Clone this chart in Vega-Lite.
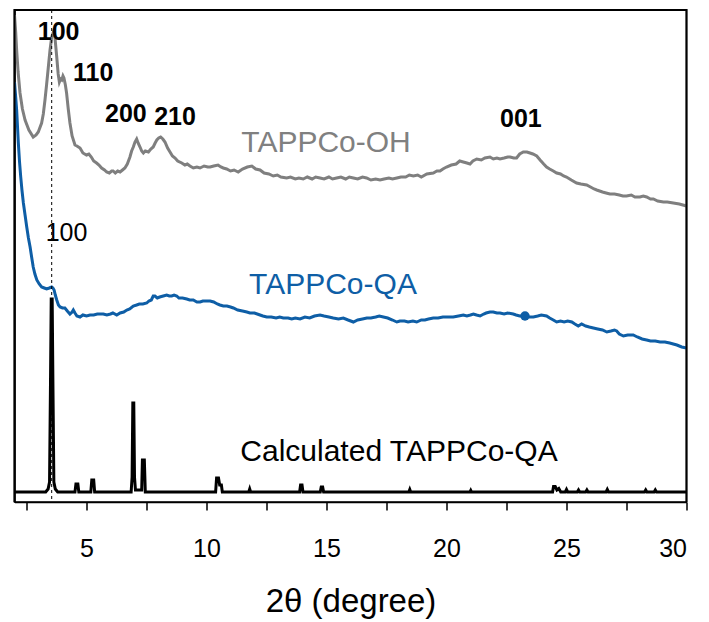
{
  "$schema": "https://vega.github.io/schema/vega-lite/v6.json",
  "width": 672,
  "height": 492,
  "autosize": {"type": "none"},
  "padding": {"left": 14.5, "top": 10, "right": 22.5, "bottom": 120},
  "background": "white",
  "config": {
    "view": {"stroke": "#000000", "strokeWidth": 1.5},
    "font": "Liberation Sans",
    "axis": {"grid": false}
  },
  "datasets": {
    "xrd": [
      {"theta": 2.0, "intensity": 487, "pattern": "TAPPCo-OH"},
      {"theta": 2.05, "intensity": 470, "pattern": "TAPPCo-OH"},
      {"theta": 2.09, "intensity": 452, "pattern": "TAPPCo-OH"},
      {"theta": 2.15, "intensity": 430, "pattern": "TAPPCo-OH"},
      {"theta": 2.23, "intensity": 409, "pattern": "TAPPCo-OH"},
      {"theta": 2.33, "intensity": 393, "pattern": "TAPPCo-OH"},
      {"theta": 2.44, "intensity": 382, "pattern": "TAPPCo-OH"},
      {"theta": 2.6, "intensity": 372, "pattern": "TAPPCo-OH"},
      {"theta": 2.78, "intensity": 365, "pattern": "TAPPCo-OH"},
      {"theta": 2.9, "intensity": 367, "pattern": "TAPPCo-OH"},
      {"theta": 2.99, "intensity": 370, "pattern": "TAPPCo-OH"},
      {"theta": 3.13, "intensity": 379, "pattern": "TAPPCo-OH"},
      {"theta": 3.2, "intensity": 388, "pattern": "TAPPCo-OH"},
      {"theta": 3.27, "intensity": 402, "pattern": "TAPPCo-OH"},
      {"theta": 3.34, "intensity": 418, "pattern": "TAPPCo-OH"},
      {"theta": 3.41, "intensity": 435, "pattern": "TAPPCo-OH"},
      {"theta": 3.48, "intensity": 452, "pattern": "TAPPCo-OH"},
      {"theta": 3.55, "intensity": 465, "pattern": "TAPPCo-OH"},
      {"theta": 3.62, "intensity": 470, "pattern": "TAPPCo-OH"},
      {"theta": 3.68, "intensity": 466, "pattern": "TAPPCo-OH"},
      {"theta": 3.76, "intensity": 445, "pattern": "TAPPCo-OH"},
      {"theta": 3.82, "intensity": 428, "pattern": "TAPPCo-OH"},
      {"theta": 3.87, "intensity": 420, "pattern": "TAPPCo-OH"},
      {"theta": 3.92, "intensity": 423, "pattern": "TAPPCo-OH"},
      {"theta": 3.97, "intensity": 422, "pattern": "TAPPCo-OH"},
      {"theta": 4.02, "intensity": 426, "pattern": "TAPPCo-OH"},
      {"theta": 4.06, "intensity": 424, "pattern": "TAPPCo-OH"},
      {"theta": 4.12, "intensity": 417, "pattern": "TAPPCo-OH"},
      {"theta": 4.17, "intensity": 409, "pattern": "TAPPCo-OH"},
      {"theta": 4.24, "intensity": 393, "pattern": "TAPPCo-OH"},
      {"theta": 4.31, "intensity": 379, "pattern": "TAPPCo-OH"},
      {"theta": 4.4, "intensity": 366, "pattern": "TAPPCo-OH"},
      {"theta": 4.52, "intensity": 357, "pattern": "TAPPCo-OH"},
      {"theta": 4.6, "intensity": 356, "pattern": "TAPPCo-OH"},
      {"theta": 4.73, "intensity": 354, "pattern": "TAPPCo-OH"},
      {"theta": 4.85, "intensity": 349, "pattern": "TAPPCo-OH"},
      {"theta": 5.0, "intensity": 347, "pattern": "TAPPCo-OH"},
      {"theta": 5.1, "intensity": 348, "pattern": "TAPPCo-OH"},
      {"theta": 5.2, "intensity": 345, "pattern": "TAPPCo-OH"},
      {"theta": 5.3, "intensity": 341, "pattern": "TAPPCo-OH"},
      {"theta": 5.42, "intensity": 339, "pattern": "TAPPCo-OH"},
      {"theta": 5.52, "intensity": 337, "pattern": "TAPPCo-OH"},
      {"theta": 5.63, "intensity": 334, "pattern": "TAPPCo-OH"},
      {"theta": 5.75, "intensity": 332, "pattern": "TAPPCo-OH"},
      {"theta": 5.84, "intensity": 330, "pattern": "TAPPCo-OH"},
      {"theta": 5.95, "intensity": 329, "pattern": "TAPPCo-OH"},
      {"theta": 6.05, "intensity": 331, "pattern": "TAPPCo-OH"},
      {"theta": 6.11, "intensity": 331, "pattern": "TAPPCo-OH"},
      {"theta": 6.2, "intensity": 329, "pattern": "TAPPCo-OH"},
      {"theta": 6.3, "intensity": 331, "pattern": "TAPPCo-OH"},
      {"theta": 6.4, "intensity": 330, "pattern": "TAPPCo-OH"},
      {"theta": 6.5, "intensity": 332, "pattern": "TAPPCo-OH"},
      {"theta": 6.6, "intensity": 334, "pattern": "TAPPCo-OH"},
      {"theta": 6.7, "intensity": 338, "pattern": "TAPPCo-OH"},
      {"theta": 6.81, "intensity": 345, "pattern": "TAPPCo-OH"},
      {"theta": 6.88, "intensity": 351, "pattern": "TAPPCo-OH"},
      {"theta": 6.95, "intensity": 355, "pattern": "TAPPCo-OH"},
      {"theta": 7.02, "intensity": 360, "pattern": "TAPPCo-OH"},
      {"theta": 7.09, "intensity": 363, "pattern": "TAPPCo-OH"},
      {"theta": 7.15, "intensity": 359, "pattern": "TAPPCo-OH"},
      {"theta": 7.23, "intensity": 355, "pattern": "TAPPCo-OH"},
      {"theta": 7.3, "intensity": 351, "pattern": "TAPPCo-OH"},
      {"theta": 7.37, "intensity": 349, "pattern": "TAPPCo-OH"},
      {"theta": 7.45, "intensity": 351, "pattern": "TAPPCo-OH"},
      {"theta": 7.58, "intensity": 350, "pattern": "TAPPCo-OH"},
      {"theta": 7.68, "intensity": 353, "pattern": "TAPPCo-OH"},
      {"theta": 7.78, "intensity": 355, "pattern": "TAPPCo-OH"},
      {"theta": 7.86, "intensity": 359, "pattern": "TAPPCo-OH"},
      {"theta": 7.93, "intensity": 362, "pattern": "TAPPCo-OH"},
      {"theta": 8.01, "intensity": 364, "pattern": "TAPPCo-OH"},
      {"theta": 8.09, "intensity": 365, "pattern": "TAPPCo-OH"},
      {"theta": 8.18, "intensity": 363, "pattern": "TAPPCo-OH"},
      {"theta": 8.27, "intensity": 360, "pattern": "TAPPCo-OH"},
      {"theta": 8.38, "intensity": 354, "pattern": "TAPPCo-OH"},
      {"theta": 8.48, "intensity": 350, "pattern": "TAPPCo-OH"},
      {"theta": 8.58, "intensity": 346, "pattern": "TAPPCo-OH"},
      {"theta": 8.69, "intensity": 344, "pattern": "TAPPCo-OH"},
      {"theta": 8.8, "intensity": 341, "pattern": "TAPPCo-OH"},
      {"theta": 8.97, "intensity": 339, "pattern": "TAPPCo-OH"},
      {"theta": 9.1, "intensity": 337, "pattern": "TAPPCo-OH"},
      {"theta": 9.2, "intensity": 338, "pattern": "TAPPCo-OH"},
      {"theta": 9.31, "intensity": 336, "pattern": "TAPPCo-OH"},
      {"theta": 9.45, "intensity": 334, "pattern": "TAPPCo-OH"},
      {"theta": 9.6, "intensity": 335, "pattern": "TAPPCo-OH"},
      {"theta": 9.73, "intensity": 334, "pattern": "TAPPCo-OH"},
      {"theta": 9.9, "intensity": 336, "pattern": "TAPPCo-OH"},
      {"theta": 10.05, "intensity": 335, "pattern": "TAPPCo-OH"},
      {"theta": 10.15, "intensity": 335, "pattern": "TAPPCo-OH"},
      {"theta": 10.3, "intensity": 336, "pattern": "TAPPCo-OH"},
      {"theta": 10.48, "intensity": 337, "pattern": "TAPPCo-OH"},
      {"theta": 10.6, "intensity": 335, "pattern": "TAPPCo-OH"},
      {"theta": 10.7, "intensity": 334, "pattern": "TAPPCo-OH"},
      {"theta": 10.84, "intensity": 333, "pattern": "TAPPCo-OH"},
      {"theta": 11.0, "intensity": 331, "pattern": "TAPPCo-OH"},
      {"theta": 11.15, "intensity": 332, "pattern": "TAPPCo-OH"},
      {"theta": 11.32, "intensity": 330, "pattern": "TAPPCo-OH"},
      {"theta": 11.5, "intensity": 333, "pattern": "TAPPCo-OH"},
      {"theta": 11.7, "intensity": 335, "pattern": "TAPPCo-OH"},
      {"theta": 11.89, "intensity": 336, "pattern": "TAPPCo-OH"},
      {"theta": 12.05, "intensity": 333, "pattern": "TAPPCo-OH"},
      {"theta": 12.23, "intensity": 332, "pattern": "TAPPCo-OH"},
      {"theta": 12.4, "intensity": 329, "pattern": "TAPPCo-OH"},
      {"theta": 12.6, "intensity": 328, "pattern": "TAPPCo-OH"},
      {"theta": 12.78, "intensity": 326, "pattern": "TAPPCo-OH"},
      {"theta": 12.95, "intensity": 327, "pattern": "TAPPCo-OH"},
      {"theta": 13.1, "intensity": 325, "pattern": "TAPPCo-OH"},
      {"theta": 13.34, "intensity": 324, "pattern": "TAPPCo-OH"},
      {"theta": 13.5, "intensity": 325, "pattern": "TAPPCo-OH"},
      {"theta": 13.7, "intensity": 323, "pattern": "TAPPCo-OH"},
      {"theta": 13.85, "intensity": 324, "pattern": "TAPPCo-OH"},
      {"theta": 14.03, "intensity": 323, "pattern": "TAPPCo-OH"},
      {"theta": 14.2, "intensity": 325, "pattern": "TAPPCo-OH"},
      {"theta": 14.4, "intensity": 323, "pattern": "TAPPCo-OH"},
      {"theta": 14.55, "intensity": 325, "pattern": "TAPPCo-OH"},
      {"theta": 14.73, "intensity": 324, "pattern": "TAPPCo-OH"},
      {"theta": 14.9, "intensity": 323, "pattern": "TAPPCo-OH"},
      {"theta": 15.1, "intensity": 325, "pattern": "TAPPCo-OH"},
      {"theta": 15.25, "intensity": 323, "pattern": "TAPPCo-OH"},
      {"theta": 15.42, "intensity": 324, "pattern": "TAPPCo-OH"},
      {"theta": 15.6, "intensity": 325, "pattern": "TAPPCo-OH"},
      {"theta": 15.8, "intensity": 323, "pattern": "TAPPCo-OH"},
      {"theta": 15.95, "intensity": 325, "pattern": "TAPPCo-OH"},
      {"theta": 16.12, "intensity": 324, "pattern": "TAPPCo-OH"},
      {"theta": 16.3, "intensity": 323, "pattern": "TAPPCo-OH"},
      {"theta": 16.5, "intensity": 325, "pattern": "TAPPCo-OH"},
      {"theta": 16.67, "intensity": 324, "pattern": "TAPPCo-OH"},
      {"theta": 16.85, "intensity": 322, "pattern": "TAPPCo-OH"},
      {"theta": 17.05, "intensity": 323, "pattern": "TAPPCo-OH"},
      {"theta": 17.23, "intensity": 322, "pattern": "TAPPCo-OH"},
      {"theta": 17.4, "intensity": 323, "pattern": "TAPPCo-OH"},
      {"theta": 17.6, "intensity": 324, "pattern": "TAPPCo-OH"},
      {"theta": 17.75, "intensity": 323, "pattern": "TAPPCo-OH"},
      {"theta": 17.93, "intensity": 324, "pattern": "TAPPCo-OH"},
      {"theta": 18.1, "intensity": 325, "pattern": "TAPPCo-OH"},
      {"theta": 18.3, "intensity": 325, "pattern": "TAPPCo-OH"},
      {"theta": 18.45, "intensity": 327, "pattern": "TAPPCo-OH"},
      {"theta": 18.62, "intensity": 326, "pattern": "TAPPCo-OH"},
      {"theta": 18.8, "intensity": 327, "pattern": "TAPPCo-OH"},
      {"theta": 18.95, "intensity": 325, "pattern": "TAPPCo-OH"},
      {"theta": 19.18, "intensity": 328, "pattern": "TAPPCo-OH"},
      {"theta": 19.45, "intensity": 329, "pattern": "TAPPCo-OH"},
      {"theta": 19.6, "intensity": 331, "pattern": "TAPPCo-OH"},
      {"theta": 19.73, "intensity": 331, "pattern": "TAPPCo-OH"},
      {"theta": 19.85, "intensity": 333, "pattern": "TAPPCo-OH"},
      {"theta": 20.0, "intensity": 335, "pattern": "TAPPCo-OH"},
      {"theta": 20.2, "intensity": 337, "pattern": "TAPPCo-OH"},
      {"theta": 20.4, "intensity": 338, "pattern": "TAPPCo-OH"},
      {"theta": 20.55, "intensity": 341, "pattern": "TAPPCo-OH"},
      {"theta": 20.7, "intensity": 340, "pattern": "TAPPCo-OH"},
      {"theta": 20.85, "intensity": 339, "pattern": "TAPPCo-OH"},
      {"theta": 20.98, "intensity": 338, "pattern": "TAPPCo-OH"},
      {"theta": 21.1, "intensity": 341, "pattern": "TAPPCo-OH"},
      {"theta": 21.26, "intensity": 343, "pattern": "TAPPCo-OH"},
      {"theta": 21.45, "intensity": 342, "pattern": "TAPPCo-OH"},
      {"theta": 21.6, "intensity": 344, "pattern": "TAPPCo-OH"},
      {"theta": 21.81, "intensity": 345, "pattern": "TAPPCo-OH"},
      {"theta": 21.95, "intensity": 343, "pattern": "TAPPCo-OH"},
      {"theta": 22.1, "intensity": 344, "pattern": "TAPPCo-OH"},
      {"theta": 22.23, "intensity": 343, "pattern": "TAPPCo-OH"},
      {"theta": 22.4, "intensity": 344, "pattern": "TAPPCo-OH"},
      {"theta": 22.55, "intensity": 345, "pattern": "TAPPCo-OH"},
      {"theta": 22.65, "intensity": 345, "pattern": "TAPPCo-OH"},
      {"theta": 22.8, "intensity": 344, "pattern": "TAPPCo-OH"},
      {"theta": 22.92, "intensity": 344, "pattern": "TAPPCo-OH"},
      {"theta": 23.05, "intensity": 348, "pattern": "TAPPCo-OH"},
      {"theta": 23.2, "intensity": 350, "pattern": "TAPPCo-OH"},
      {"theta": 23.35, "intensity": 350, "pattern": "TAPPCo-OH"},
      {"theta": 23.48, "intensity": 349, "pattern": "TAPPCo-OH"},
      {"theta": 23.6, "intensity": 348, "pattern": "TAPPCo-OH"},
      {"theta": 23.76, "intensity": 346, "pattern": "TAPPCo-OH"},
      {"theta": 23.9, "intensity": 342, "pattern": "TAPPCo-OH"},
      {"theta": 24.05, "intensity": 338, "pattern": "TAPPCo-OH"},
      {"theta": 24.17, "intensity": 335, "pattern": "TAPPCo-OH"},
      {"theta": 24.3, "intensity": 333, "pattern": "TAPPCo-OH"},
      {"theta": 24.45, "intensity": 331, "pattern": "TAPPCo-OH"},
      {"theta": 24.59, "intensity": 329, "pattern": "TAPPCo-OH"},
      {"theta": 24.75, "intensity": 328, "pattern": "TAPPCo-OH"},
      {"theta": 24.88, "intensity": 326, "pattern": "TAPPCo-OH"},
      {"theta": 25.0, "intensity": 325, "pattern": "TAPPCo-OH"},
      {"theta": 25.2, "intensity": 322, "pattern": "TAPPCo-OH"},
      {"theta": 25.42, "intensity": 319, "pattern": "TAPPCo-OH"},
      {"theta": 25.6, "intensity": 318, "pattern": "TAPPCo-OH"},
      {"theta": 25.84, "intensity": 317, "pattern": "TAPPCo-OH"},
      {"theta": 26.0, "intensity": 315, "pattern": "TAPPCo-OH"},
      {"theta": 26.15, "intensity": 313, "pattern": "TAPPCo-OH"},
      {"theta": 26.26, "intensity": 312, "pattern": "TAPPCo-OH"},
      {"theta": 26.5, "intensity": 310, "pattern": "TAPPCo-OH"},
      {"theta": 26.65, "intensity": 309, "pattern": "TAPPCo-OH"},
      {"theta": 26.81, "intensity": 308, "pattern": "TAPPCo-OH"},
      {"theta": 27.0, "intensity": 308, "pattern": "TAPPCo-OH"},
      {"theta": 27.2, "intensity": 307, "pattern": "TAPPCo-OH"},
      {"theta": 27.35, "intensity": 306, "pattern": "TAPPCo-OH"},
      {"theta": 27.5, "intensity": 306, "pattern": "TAPPCo-OH"},
      {"theta": 27.7, "intensity": 307, "pattern": "TAPPCo-OH"},
      {"theta": 27.85, "intensity": 305, "pattern": "TAPPCo-OH"},
      {"theta": 28.06, "intensity": 305, "pattern": "TAPPCo-OH"},
      {"theta": 28.2, "intensity": 306, "pattern": "TAPPCo-OH"},
      {"theta": 28.34, "intensity": 305, "pattern": "TAPPCo-OH"},
      {"theta": 28.5, "intensity": 303, "pattern": "TAPPCo-OH"},
      {"theta": 28.62, "intensity": 303, "pattern": "TAPPCo-OH"},
      {"theta": 28.8, "intensity": 301, "pattern": "TAPPCo-OH"},
      {"theta": 29.04, "intensity": 300, "pattern": "TAPPCo-OH"},
      {"theta": 29.2, "intensity": 300, "pattern": "TAPPCo-OH"},
      {"theta": 29.45, "intensity": 299, "pattern": "TAPPCo-OH"},
      {"theta": 29.7, "intensity": 298, "pattern": "TAPPCo-OH"},
      {"theta": 29.85, "intensity": 297, "pattern": "TAPPCo-OH"},
      {"theta": 30.0, "intensity": 296, "pattern": "TAPPCo-OH"},

      {"theta": 2.0, "intensity": 420, "pattern": "TAPPCo-QA"},
      {"theta": 2.05, "intensity": 405, "pattern": "TAPPCo-QA"},
      {"theta": 2.09, "intensity": 392, "pattern": "TAPPCo-QA"},
      {"theta": 2.16, "intensity": 359, "pattern": "TAPPCo-QA"},
      {"theta": 2.21, "intensity": 340, "pattern": "TAPPCo-QA"},
      {"theta": 2.26, "intensity": 325, "pattern": "TAPPCo-QA"},
      {"theta": 2.31, "intensity": 312, "pattern": "TAPPCo-QA"},
      {"theta": 2.37, "intensity": 299, "pattern": "TAPPCo-QA"},
      {"theta": 2.44, "intensity": 287, "pattern": "TAPPCo-QA"},
      {"theta": 2.51, "intensity": 275, "pattern": "TAPPCo-QA"},
      {"theta": 2.58, "intensity": 264, "pattern": "TAPPCo-QA"},
      {"theta": 2.65, "intensity": 255, "pattern": "TAPPCo-QA"},
      {"theta": 2.72, "intensity": 244, "pattern": "TAPPCo-QA"},
      {"theta": 2.78, "intensity": 235, "pattern": "TAPPCo-QA"},
      {"theta": 2.85, "intensity": 228, "pattern": "TAPPCo-QA"},
      {"theta": 2.93, "intensity": 222, "pattern": "TAPPCo-QA"},
      {"theta": 3.03, "intensity": 218, "pattern": "TAPPCo-QA"},
      {"theta": 3.13, "intensity": 215, "pattern": "TAPPCo-QA"},
      {"theta": 3.24, "intensity": 214, "pattern": "TAPPCo-QA"},
      {"theta": 3.34, "intensity": 213, "pattern": "TAPPCo-QA"},
      {"theta": 3.45, "intensity": 214, "pattern": "TAPPCo-QA"},
      {"theta": 3.55, "intensity": 215, "pattern": "TAPPCo-QA"},
      {"theta": 3.6, "intensity": 214, "pattern": "TAPPCo-QA"},
      {"theta": 3.65, "intensity": 212, "pattern": "TAPPCo-QA"},
      {"theta": 3.7, "intensity": 207, "pattern": "TAPPCo-QA"},
      {"theta": 3.76, "intensity": 202, "pattern": "TAPPCo-QA"},
      {"theta": 3.83, "intensity": 197, "pattern": "TAPPCo-QA"},
      {"theta": 3.9, "intensity": 195, "pattern": "TAPPCo-QA"},
      {"theta": 4.0, "intensity": 194, "pattern": "TAPPCo-QA"},
      {"theta": 4.1, "intensity": 194, "pattern": "TAPPCo-QA"},
      {"theta": 4.2, "intensity": 191, "pattern": "TAPPCo-QA"},
      {"theta": 4.31, "intensity": 188, "pattern": "TAPPCo-QA"},
      {"theta": 4.4, "intensity": 190, "pattern": "TAPPCo-QA"},
      {"theta": 4.45, "intensity": 192, "pattern": "TAPPCo-QA"},
      {"theta": 4.52, "intensity": 189, "pattern": "TAPPCo-QA"},
      {"theta": 4.6, "intensity": 186, "pattern": "TAPPCo-QA"},
      {"theta": 4.73, "intensity": 185, "pattern": "TAPPCo-QA"},
      {"theta": 4.85, "intensity": 187, "pattern": "TAPPCo-QA"},
      {"theta": 5.0, "intensity": 186, "pattern": "TAPPCo-QA"},
      {"theta": 5.15, "intensity": 187, "pattern": "TAPPCo-QA"},
      {"theta": 5.3, "intensity": 187, "pattern": "TAPPCo-QA"},
      {"theta": 5.45, "intensity": 188, "pattern": "TAPPCo-QA"},
      {"theta": 5.56, "intensity": 188, "pattern": "TAPPCo-QA"},
      {"theta": 5.7, "intensity": 188, "pattern": "TAPPCo-QA"},
      {"theta": 5.85, "intensity": 187, "pattern": "TAPPCo-QA"},
      {"theta": 6.0, "intensity": 188, "pattern": "TAPPCo-QA"},
      {"theta": 6.1, "intensity": 189, "pattern": "TAPPCo-QA"},
      {"theta": 6.26, "intensity": 187, "pattern": "TAPPCo-QA"},
      {"theta": 6.4, "intensity": 189, "pattern": "TAPPCo-QA"},
      {"theta": 6.55, "intensity": 190, "pattern": "TAPPCo-QA"},
      {"theta": 6.68, "intensity": 192, "pattern": "TAPPCo-QA"},
      {"theta": 6.8, "intensity": 193, "pattern": "TAPPCo-QA"},
      {"theta": 6.95, "intensity": 196, "pattern": "TAPPCo-QA"},
      {"theta": 7.09, "intensity": 197, "pattern": "TAPPCo-QA"},
      {"theta": 7.2, "intensity": 198, "pattern": "TAPPCo-QA"},
      {"theta": 7.35, "intensity": 198, "pattern": "TAPPCo-QA"},
      {"theta": 7.51, "intensity": 199, "pattern": "TAPPCo-QA"},
      {"theta": 7.6, "intensity": 201, "pattern": "TAPPCo-QA"},
      {"theta": 7.7, "intensity": 202, "pattern": "TAPPCo-QA"},
      {"theta": 7.78, "intensity": 206, "pattern": "TAPPCo-QA"},
      {"theta": 7.85, "intensity": 206, "pattern": "TAPPCo-QA"},
      {"theta": 7.95, "intensity": 204, "pattern": "TAPPCo-QA"},
      {"theta": 8.05, "intensity": 205, "pattern": "TAPPCo-QA"},
      {"theta": 8.2, "intensity": 206, "pattern": "TAPPCo-QA"},
      {"theta": 8.34, "intensity": 207, "pattern": "TAPPCo-QA"},
      {"theta": 8.45, "intensity": 206, "pattern": "TAPPCo-QA"},
      {"theta": 8.55, "intensity": 206, "pattern": "TAPPCo-QA"},
      {"theta": 8.65, "intensity": 207, "pattern": "TAPPCo-QA"},
      {"theta": 8.76, "intensity": 206, "pattern": "TAPPCo-QA"},
      {"theta": 8.85, "intensity": 204, "pattern": "TAPPCo-QA"},
      {"theta": 9.0, "intensity": 204, "pattern": "TAPPCo-QA"},
      {"theta": 9.18, "intensity": 203, "pattern": "TAPPCo-QA"},
      {"theta": 9.3, "intensity": 202, "pattern": "TAPPCo-QA"},
      {"theta": 9.45, "intensity": 202, "pattern": "TAPPCo-QA"},
      {"theta": 9.6, "intensity": 200, "pattern": "TAPPCo-QA"},
      {"theta": 9.73, "intensity": 200, "pattern": "TAPPCo-QA"},
      {"theta": 9.85, "intensity": 201, "pattern": "TAPPCo-QA"},
      {"theta": 10.0, "intensity": 201, "pattern": "TAPPCo-QA"},
      {"theta": 10.15, "intensity": 201, "pattern": "TAPPCo-QA"},
      {"theta": 10.3, "intensity": 200, "pattern": "TAPPCo-QA"},
      {"theta": 10.45, "intensity": 198, "pattern": "TAPPCo-QA"},
      {"theta": 10.56, "intensity": 197, "pattern": "TAPPCo-QA"},
      {"theta": 10.7, "intensity": 196, "pattern": "TAPPCo-QA"},
      {"theta": 10.85, "intensity": 196, "pattern": "TAPPCo-QA"},
      {"theta": 11.0, "intensity": 195, "pattern": "TAPPCo-QA"},
      {"theta": 11.12, "intensity": 194, "pattern": "TAPPCo-QA"},
      {"theta": 11.3, "intensity": 192, "pattern": "TAPPCo-QA"},
      {"theta": 11.5, "intensity": 191, "pattern": "TAPPCo-QA"},
      {"theta": 11.68, "intensity": 190, "pattern": "TAPPCo-QA"},
      {"theta": 11.81, "intensity": 189, "pattern": "TAPPCo-QA"},
      {"theta": 12.0, "intensity": 189, "pattern": "TAPPCo-QA"},
      {"theta": 12.23, "intensity": 187, "pattern": "TAPPCo-QA"},
      {"theta": 12.35, "intensity": 186, "pattern": "TAPPCo-QA"},
      {"theta": 12.51, "intensity": 185, "pattern": "TAPPCo-QA"},
      {"theta": 12.7, "intensity": 185, "pattern": "TAPPCo-QA"},
      {"theta": 12.9, "intensity": 184, "pattern": "TAPPCo-QA"},
      {"theta": 13.05, "intensity": 185, "pattern": "TAPPCo-QA"},
      {"theta": 13.2, "intensity": 184, "pattern": "TAPPCo-QA"},
      {"theta": 13.4, "intensity": 184, "pattern": "TAPPCo-QA"},
      {"theta": 13.55, "intensity": 183, "pattern": "TAPPCo-QA"},
      {"theta": 13.7, "intensity": 184, "pattern": "TAPPCo-QA"},
      {"theta": 13.9, "intensity": 183, "pattern": "TAPPCo-QA"},
      {"theta": 14.1, "intensity": 185, "pattern": "TAPPCo-QA"},
      {"theta": 14.3, "intensity": 184, "pattern": "TAPPCo-QA"},
      {"theta": 14.5, "intensity": 186, "pattern": "TAPPCo-QA"},
      {"theta": 14.73, "intensity": 187, "pattern": "TAPPCo-QA"},
      {"theta": 14.9, "intensity": 186, "pattern": "TAPPCo-QA"},
      {"theta": 15.1, "intensity": 185, "pattern": "TAPPCo-QA"},
      {"theta": 15.28, "intensity": 184, "pattern": "TAPPCo-QA"},
      {"theta": 15.5, "intensity": 183, "pattern": "TAPPCo-QA"},
      {"theta": 15.7, "intensity": 184, "pattern": "TAPPCo-QA"},
      {"theta": 15.9, "intensity": 182, "pattern": "TAPPCo-QA"},
      {"theta": 16.12, "intensity": 180, "pattern": "TAPPCo-QA"},
      {"theta": 16.3, "intensity": 182, "pattern": "TAPPCo-QA"},
      {"theta": 16.5, "intensity": 183, "pattern": "TAPPCo-QA"},
      {"theta": 16.68, "intensity": 184, "pattern": "TAPPCo-QA"},
      {"theta": 16.85, "intensity": 184, "pattern": "TAPPCo-QA"},
      {"theta": 17.05, "intensity": 185, "pattern": "TAPPCo-QA"},
      {"theta": 17.2, "intensity": 186, "pattern": "TAPPCo-QA"},
      {"theta": 17.37, "intensity": 185, "pattern": "TAPPCo-QA"},
      {"theta": 17.55, "intensity": 184, "pattern": "TAPPCo-QA"},
      {"theta": 17.75, "intensity": 182, "pattern": "TAPPCo-QA"},
      {"theta": 17.93, "intensity": 180, "pattern": "TAPPCo-QA"},
      {"theta": 18.06, "intensity": 181, "pattern": "TAPPCo-QA"},
      {"theta": 18.25, "intensity": 181, "pattern": "TAPPCo-QA"},
      {"theta": 18.4, "intensity": 180, "pattern": "TAPPCo-QA"},
      {"theta": 18.6, "intensity": 181, "pattern": "TAPPCo-QA"},
      {"theta": 18.76, "intensity": 180, "pattern": "TAPPCo-QA"},
      {"theta": 18.95, "intensity": 182, "pattern": "TAPPCo-QA"},
      {"theta": 19.1, "intensity": 182, "pattern": "TAPPCo-QA"},
      {"theta": 19.25, "intensity": 183, "pattern": "TAPPCo-QA"},
      {"theta": 19.45, "intensity": 184, "pattern": "TAPPCo-QA"},
      {"theta": 19.65, "intensity": 184, "pattern": "TAPPCo-QA"},
      {"theta": 19.85, "intensity": 185, "pattern": "TAPPCo-QA"},
      {"theta": 20.05, "intensity": 185, "pattern": "TAPPCo-QA"},
      {"theta": 20.28, "intensity": 185, "pattern": "TAPPCo-QA"},
      {"theta": 20.5, "intensity": 186, "pattern": "TAPPCo-QA"},
      {"theta": 20.7, "intensity": 187, "pattern": "TAPPCo-QA"},
      {"theta": 20.85, "intensity": 186, "pattern": "TAPPCo-QA"},
      {"theta": 21.0, "intensity": 187, "pattern": "TAPPCo-QA"},
      {"theta": 21.12, "intensity": 188, "pattern": "TAPPCo-QA"},
      {"theta": 21.25, "intensity": 187, "pattern": "TAPPCo-QA"},
      {"theta": 21.4, "intensity": 186, "pattern": "TAPPCo-QA"},
      {"theta": 21.55, "intensity": 188, "pattern": "TAPPCo-QA"},
      {"theta": 21.65, "intensity": 189, "pattern": "TAPPCo-QA"},
      {"theta": 21.81, "intensity": 190, "pattern": "TAPPCo-QA"},
      {"theta": 21.95, "intensity": 190, "pattern": "TAPPCo-QA"},
      {"theta": 22.1, "intensity": 189, "pattern": "TAPPCo-QA"},
      {"theta": 22.23, "intensity": 189, "pattern": "TAPPCo-QA"},
      {"theta": 22.4, "intensity": 188, "pattern": "TAPPCo-QA"},
      {"theta": 22.55, "intensity": 189, "pattern": "TAPPCo-QA"},
      {"theta": 22.78, "intensity": 188, "pattern": "TAPPCo-QA"},
      {"theta": 22.9, "intensity": 187, "pattern": "TAPPCo-QA"},
      {"theta": 23.05, "intensity": 186, "pattern": "TAPPCo-QA"},
      {"theta": 23.27, "intensity": 186, "pattern": "TAPPCo-QA"},
      {"theta": 23.45, "intensity": 185, "pattern": "TAPPCo-QA"},
      {"theta": 23.62, "intensity": 185, "pattern": "TAPPCo-QA"},
      {"theta": 23.8, "intensity": 186, "pattern": "TAPPCo-QA"},
      {"theta": 23.95, "intensity": 187, "pattern": "TAPPCo-QA"},
      {"theta": 24.17, "intensity": 186, "pattern": "TAPPCo-QA"},
      {"theta": 24.3, "intensity": 184, "pattern": "TAPPCo-QA"},
      {"theta": 24.45, "intensity": 182, "pattern": "TAPPCo-QA"},
      {"theta": 24.59, "intensity": 180, "pattern": "TAPPCo-QA"},
      {"theta": 24.75, "intensity": 181, "pattern": "TAPPCo-QA"},
      {"theta": 24.9, "intensity": 180, "pattern": "TAPPCo-QA"},
      {"theta": 25.05, "intensity": 181, "pattern": "TAPPCo-QA"},
      {"theta": 25.22, "intensity": 180, "pattern": "TAPPCo-QA"},
      {"theta": 25.35, "intensity": 178, "pattern": "TAPPCo-QA"},
      {"theta": 25.49, "intensity": 176, "pattern": "TAPPCo-QA"},
      {"theta": 25.63, "intensity": 178, "pattern": "TAPPCo-QA"},
      {"theta": 25.8, "intensity": 176, "pattern": "TAPPCo-QA"},
      {"theta": 25.95, "intensity": 175, "pattern": "TAPPCo-QA"},
      {"theta": 26.12, "intensity": 174, "pattern": "TAPPCo-QA"},
      {"theta": 26.3, "intensity": 173, "pattern": "TAPPCo-QA"},
      {"theta": 26.5, "intensity": 172, "pattern": "TAPPCo-QA"},
      {"theta": 26.68, "intensity": 170, "pattern": "TAPPCo-QA"},
      {"theta": 26.85, "intensity": 171, "pattern": "TAPPCo-QA"},
      {"theta": 27.0, "intensity": 172, "pattern": "TAPPCo-QA"},
      {"theta": 27.09, "intensity": 171, "pattern": "TAPPCo-QA"},
      {"theta": 27.2, "intensity": 168, "pattern": "TAPPCo-QA"},
      {"theta": 27.37, "intensity": 166, "pattern": "TAPPCo-QA"},
      {"theta": 27.55, "intensity": 167, "pattern": "TAPPCo-QA"},
      {"theta": 27.78, "intensity": 167, "pattern": "TAPPCo-QA"},
      {"theta": 27.95, "intensity": 165, "pattern": "TAPPCo-QA"},
      {"theta": 28.15, "intensity": 163, "pattern": "TAPPCo-QA"},
      {"theta": 28.34, "intensity": 162, "pattern": "TAPPCo-QA"},
      {"theta": 28.5, "intensity": 161, "pattern": "TAPPCo-QA"},
      {"theta": 28.7, "intensity": 161, "pattern": "TAPPCo-QA"},
      {"theta": 28.9, "intensity": 160, "pattern": "TAPPCo-QA"},
      {"theta": 29.1, "intensity": 160, "pattern": "TAPPCo-QA"},
      {"theta": 29.3, "intensity": 159, "pattern": "TAPPCo-QA"},
      {"theta": 29.45, "intensity": 158, "pattern": "TAPPCo-QA"},
      {"theta": 29.6, "intensity": 157, "pattern": "TAPPCo-QA"},
      {"theta": 29.8, "intensity": 155, "pattern": "TAPPCo-QA"},
      {"theta": 30.0, "intensity": 154, "pattern": "TAPPCo-QA"},

      {"theta": 2.0, "intensity": 10, "pattern": "Calculated TAPPCo-QA"},
      {"theta": 3.3, "intensity": 10, "pattern": "Calculated TAPPCo-QA"},
      {"theta": 3.4, "intensity": 13, "pattern": "Calculated TAPPCo-QA"},
      {"theta": 3.46, "intensity": 20, "pattern": "Calculated TAPPCo-QA"},
      {"theta": 3.5, "intensity": 120, "pattern": "Calculated TAPPCo-QA"},
      {"theta": 3.53, "intensity": 203, "pattern": "Calculated TAPPCo-QA"},
      {"theta": 3.57, "intensity": 203, "pattern": "Calculated TAPPCo-QA"},
      {"theta": 3.6, "intensity": 120, "pattern": "Calculated TAPPCo-QA"},
      {"theta": 3.64, "intensity": 20, "pattern": "Calculated TAPPCo-QA"},
      {"theta": 3.7, "intensity": 13, "pattern": "Calculated TAPPCo-QA"},
      {"theta": 3.8, "intensity": 10, "pattern": "Calculated TAPPCo-QA"},
      {"theta": 4.52, "intensity": 10, "pattern": "Calculated TAPPCo-QA"},
      {"theta": 4.56, "intensity": 18, "pattern": "Calculated TAPPCo-QA"},
      {"theta": 4.64, "intensity": 18, "pattern": "Calculated TAPPCo-QA"},
      {"theta": 4.68, "intensity": 10, "pattern": "Calculated TAPPCo-QA"},
      {"theta": 5.18, "intensity": 10, "pattern": "Calculated TAPPCo-QA"},
      {"theta": 5.22, "intensity": 22, "pattern": "Calculated TAPPCo-QA"},
      {"theta": 5.3, "intensity": 22, "pattern": "Calculated TAPPCo-QA"},
      {"theta": 5.34, "intensity": 10, "pattern": "Calculated TAPPCo-QA"},
      {"theta": 6.86, "intensity": 10, "pattern": "Calculated TAPPCo-QA"},
      {"theta": 6.9, "intensity": 25, "pattern": "Calculated TAPPCo-QA"},
      {"theta": 6.93, "intensity": 99, "pattern": "Calculated TAPPCo-QA"},
      {"theta": 6.97, "intensity": 99, "pattern": "Calculated TAPPCo-QA"},
      {"theta": 7.0, "intensity": 25, "pattern": "Calculated TAPPCo-QA"},
      {"theta": 7.04, "intensity": 12, "pattern": "Calculated TAPPCo-QA"},
      {"theta": 7.3, "intensity": 12, "pattern": "Calculated TAPPCo-QA"},
      {"theta": 7.33, "intensity": 42, "pattern": "Calculated TAPPCo-QA"},
      {"theta": 7.41, "intensity": 42, "pattern": "Calculated TAPPCo-QA"},
      {"theta": 7.45, "intensity": 10, "pattern": "Calculated TAPPCo-QA"},
      {"theta": 10.38, "intensity": 10, "pattern": "Calculated TAPPCo-QA"},
      {"theta": 10.42, "intensity": 24, "pattern": "Calculated TAPPCo-QA"},
      {"theta": 10.5, "intensity": 24, "pattern": "Calculated TAPPCo-QA"},
      {"theta": 10.55, "intensity": 17, "pattern": "Calculated TAPPCo-QA"},
      {"theta": 10.62, "intensity": 17, "pattern": "Calculated TAPPCo-QA"},
      {"theta": 10.66, "intensity": 10, "pattern": "Calculated TAPPCo-QA"},
      {"theta": 11.76, "intensity": 10, "pattern": "Calculated TAPPCo-QA"},
      {"theta": 11.8, "intensity": 13, "pattern": "Calculated TAPPCo-QA"},
      {"theta": 11.84, "intensity": 10, "pattern": "Calculated TAPPCo-QA"},
      {"theta": 13.88, "intensity": 10, "pattern": "Calculated TAPPCo-QA"},
      {"theta": 13.92, "intensity": 17, "pattern": "Calculated TAPPCo-QA"},
      {"theta": 13.98, "intensity": 17, "pattern": "Calculated TAPPCo-QA"},
      {"theta": 14.02, "intensity": 10, "pattern": "Calculated TAPPCo-QA"},
      {"theta": 14.74, "intensity": 10, "pattern": "Calculated TAPPCo-QA"},
      {"theta": 14.78, "intensity": 15, "pattern": "Calculated TAPPCo-QA"},
      {"theta": 14.84, "intensity": 15, "pattern": "Calculated TAPPCo-QA"},
      {"theta": 14.88, "intensity": 10, "pattern": "Calculated TAPPCo-QA"},
      {"theta": 18.43, "intensity": 10, "pattern": "Calculated TAPPCo-QA"},
      {"theta": 18.47, "intensity": 12.5, "pattern": "Calculated TAPPCo-QA"},
      {"theta": 18.51, "intensity": 10, "pattern": "Calculated TAPPCo-QA"},
      {"theta": 20.98, "intensity": 10, "pattern": "Calculated TAPPCo-QA"},
      {"theta": 21.01, "intensity": 11.5, "pattern": "Calculated TAPPCo-QA"},
      {"theta": 21.04, "intensity": 10, "pattern": "Calculated TAPPCo-QA"},
      {"theta": 24.42, "intensity": 10, "pattern": "Calculated TAPPCo-QA"},
      {"theta": 24.46, "intensity": 15.5, "pattern": "Calculated TAPPCo-QA"},
      {"theta": 24.53, "intensity": 15.5, "pattern": "Calculated TAPPCo-QA"},
      {"theta": 24.6, "intensity": 12, "pattern": "Calculated TAPPCo-QA"},
      {"theta": 24.68, "intensity": 13.5, "pattern": "Calculated TAPPCo-QA"},
      {"theta": 24.76, "intensity": 10, "pattern": "Calculated TAPPCo-QA"},
      {"theta": 24.95, "intensity": 10, "pattern": "Calculated TAPPCo-QA"},
      {"theta": 25.0, "intensity": 12.5, "pattern": "Calculated TAPPCo-QA"},
      {"theta": 25.05, "intensity": 10, "pattern": "Calculated TAPPCo-QA"},
      {"theta": 25.45, "intensity": 10, "pattern": "Calculated TAPPCo-QA"},
      {"theta": 25.5, "intensity": 12, "pattern": "Calculated TAPPCo-QA"},
      {"theta": 25.55, "intensity": 10, "pattern": "Calculated TAPPCo-QA"},
      {"theta": 25.8, "intensity": 10, "pattern": "Calculated TAPPCo-QA"},
      {"theta": 25.85, "intensity": 12, "pattern": "Calculated TAPPCo-QA"},
      {"theta": 25.9, "intensity": 10, "pattern": "Calculated TAPPCo-QA"},
      {"theta": 26.65, "intensity": 10, "pattern": "Calculated TAPPCo-QA"},
      {"theta": 26.7, "intensity": 12.5, "pattern": "Calculated TAPPCo-QA"},
      {"theta": 26.75, "intensity": 10, "pattern": "Calculated TAPPCo-QA"},
      {"theta": 28.25, "intensity": 10, "pattern": "Calculated TAPPCo-QA"},
      {"theta": 28.3, "intensity": 12, "pattern": "Calculated TAPPCo-QA"},
      {"theta": 28.35, "intensity": 10, "pattern": "Calculated TAPPCo-QA"},
      {"theta": 28.65, "intensity": 10, "pattern": "Calculated TAPPCo-QA"},
      {"theta": 28.7, "intensity": 12, "pattern": "Calculated TAPPCo-QA"},
      {"theta": 28.75, "intensity": 10, "pattern": "Calculated TAPPCo-QA"},
      {"theta": 30.0, "intensity": 10, "pattern": "Calculated TAPPCo-QA"}
    ],
    "labels": [
      {"theta": 3.84, "intensity": 470, "text": "100", "kind": "hkl"},
      {"theta": 5.28, "intensity": 429.5, "text": "110", "kind": "hkl"},
      {"theta": 6.64, "intensity": 388, "text": "200", "kind": "hkl"},
      {"theta": 8.69, "intensity": 385, "text": "210", "kind": "hkl"},
      {"theta": 23.1, "intensity": 383, "text": "001", "kind": "hkl"},
      {"theta": 4.17, "intensity": 269.5, "text": "100", "kind": "hklQA"},
      {"theta": 14.98, "intensity": 359, "text": "TAPPCo-OH", "kind": "OH"},
      {"theta": 15.27, "intensity": 217, "text": "TAPPCo-QA", "kind": "QA"},
      {"theta": 18.02, "intensity": 50, "text": "Calculated TAPPCo-QA", "kind": "calc"}
    ],
    "marker": [
      {"theta": 23.27, "intensity": 186}
    ],
    "refline": [
      {"theta": 3.55}
    ],
    "border": [
      {"seq": 1, "theta": 2.0, "intensity": 0},
      {"seq": 2, "theta": 2.0, "intensity": 492},
      {"seq": 3, "theta": 30.0, "intensity": 492},
      {"seq": 4, "theta": 30.0, "intensity": 0}
    ]
  },
  "layer": [
    {
      "data": {"name": "xrd"},
      "mark": {"type": "line", "strokeWidth": 3, "clip": true},
      "encoding": {
        "x": {
          "field": "theta", "type": "quantitative",
          "scale": {"domain": [2, 30], "nice": false, "zero": false},
          "axis": {
            "title": "2θ (degree)",
            "values": [2.5, 5, 7.5, 10, 12.5, 15, 17.5, 20, 22.5, 25, 27.5, 30],
            "labelExpr": "datum.value % 5 == 0 ? datum.label : ''",
            "labelFontSize": 25,
            "labelColor": "#000000",
            "labelPadding": 26,
            "tickColor": "#000000",
            "tickSize": 8,
            "tickWidth": 1.5,
            "domainColor": "#000000",
            "domainWidth": 1.5,
            "titleFontSize": 33,
            "titleFontWeight": "normal",
            "titleColor": "#000000",
            "titlePadding": 24
          }
        },
        "y": {
          "field": "intensity", "type": "quantitative",
          "scale": {"domain": [0, 492], "nice": false},
          "axis": {"title": null, "labels": false, "ticks": false, "domain": true, "domainColor": "#000000", "domainWidth": 1.5}
        },
        "color": {
          "field": "pattern", "type": "nominal",
          "scale": {
            "domain": ["TAPPCo-OH", "TAPPCo-QA", "Calculated TAPPCo-QA"],
            "range": ["#7f7f7f", "#0e5ea6", "#000000"]
          },
          "legend": null
        },
        "detail": {"field": "pattern"}
      }
    },
    {
      "data": {"name": "border"},
      "mark": {"type": "line", "color": "#000000", "strokeWidth": 2, "clip": false},
      "encoding": {
        "x": {"field": "theta", "type": "quantitative"},
        "y": {"field": "intensity", "type": "quantitative"},
        "order": {"field": "seq", "type": "quantitative"}
      }
    },
    {
      "data": {"name": "refline"},
      "mark": {"type": "rule", "strokeDash": [3, 3], "strokeWidth": 1, "color": "#000000"},
      "encoding": {"x": {"field": "theta", "type": "quantitative"}}
    },
    {
      "data": {"name": "marker"},
      "mark": {"type": "point", "filled": true, "size": 90, "color": "#0e5ea6", "opacity": 1},
      "encoding": {
        "x": {"field": "theta", "type": "quantitative"},
        "y": {"field": "intensity", "type": "quantitative"}
      }
    },
    {
      "data": {"name": "labels"},
      "transform": [{"filter": "datum.kind == 'hkl'"}],
      "mark": {"type": "text", "fontSize": 25, "fontWeight": "bold", "color": "#000000", "baseline": "middle", "align": "center"},
      "encoding": {
        "x": {"field": "theta", "type": "quantitative"},
        "y": {"field": "intensity", "type": "quantitative"},
        "text": {"field": "text"}
      }
    },
    {
      "data": {"name": "labels"},
      "transform": [{"filter": "datum.kind == 'hklQA'"}],
      "mark": {"type": "text", "fontSize": 25, "color": "#000000", "baseline": "middle", "align": "center"},
      "encoding": {
        "x": {"field": "theta", "type": "quantitative"},
        "y": {"field": "intensity", "type": "quantitative"},
        "text": {"field": "text"}
      }
    },
    {
      "data": {"name": "labels"},
      "transform": [{"filter": "datum.kind == 'OH'"}],
      "mark": {"type": "text", "fontSize": 30, "color": "#808080", "baseline": "middle", "align": "center"},
      "encoding": {
        "x": {"field": "theta", "type": "quantitative"},
        "y": {"field": "intensity", "type": "quantitative"},
        "text": {"field": "text"}
      }
    },
    {
      "data": {"name": "labels"},
      "transform": [{"filter": "datum.kind == 'QA'"}],
      "mark": {"type": "text", "fontSize": 30, "color": "#0e5ea6", "baseline": "middle", "align": "center"},
      "encoding": {
        "x": {"field": "theta", "type": "quantitative"},
        "y": {"field": "intensity", "type": "quantitative"},
        "text": {"field": "text"}
      }
    },
    {
      "data": {"name": "labels"},
      "transform": [{"filter": "datum.kind == 'calc'"}],
      "mark": {"type": "text", "fontSize": 30, "color": "#000000", "baseline": "middle", "align": "center"},
      "encoding": {
        "x": {"field": "theta", "type": "quantitative"},
        "y": {"field": "intensity", "type": "quantitative"},
        "text": {"field": "text"}
      }
    }
  ]
}
